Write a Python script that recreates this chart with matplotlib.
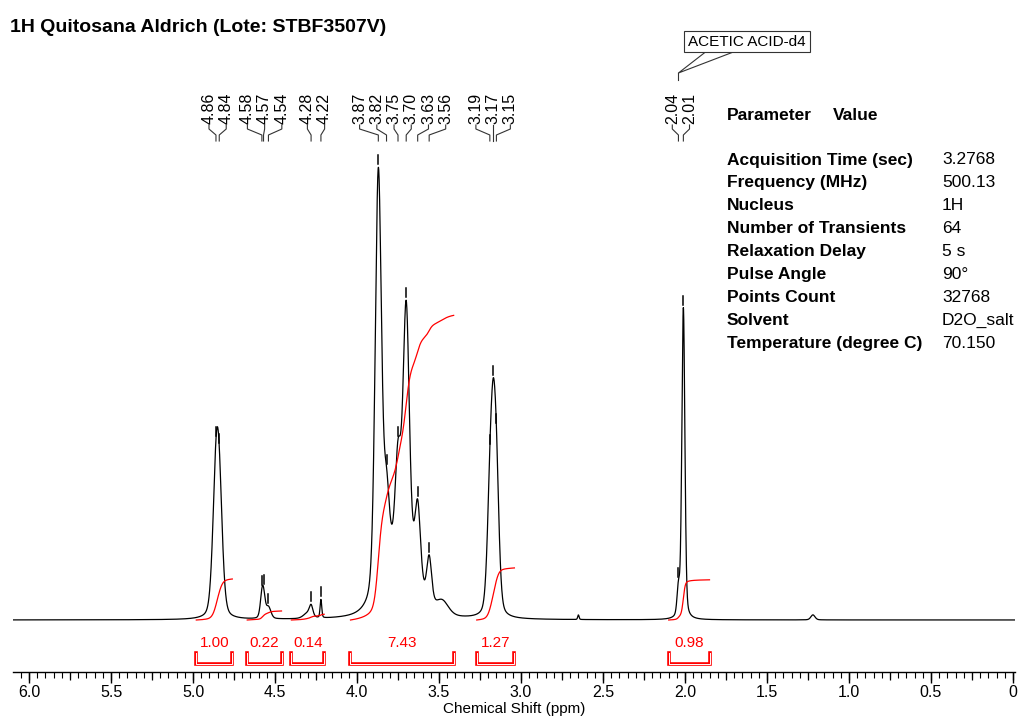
import numpy as np
import matplotlib
matplotlib.use('Agg')
import matplotlib.pyplot as plt
from matplotlib.ticker import MultipleLocator, FuncFormatter

plt.rcParams['font.family'] = ['Liberation Sans', 'DejaVu Sans']

title = '1H Quitosana Aldrich (Lote: STBF3507V)'

# lines: centre (ppm), height (tallest = 100), width (ppm)
line_ppm = [4.86, 4.84, 4.58, 4.57, 4.54, 4.30, 4.28, 4.22,
            3.74, 3.87, 3.82, 3.75, 3.70, 3.63, 3.56, 3.48,
            3.19, 3.17, 3.15, 2.65, 2.04, 2.01, 1.22]
line_height = [26, 22, 4, 4, 2.5, 1.2, 2.2, 4,
               14, 92, 16, 20, 55, 17, 10, 3,
               20, 30, 25, 1.0, 6, 68, 1.1]
line_width = [0.048, 0.048, 0.025, 0.025, 0.035, 0.06, 0.025, 0.012,
              0.22, 0.045, 0.04, 0.04, 0.045, 0.04, 0.035, 0.09,
              0.04, 0.04, 0.04, 0.01, 0.02, 0.022, 0.03]

# picked peaks
picked = [4.86, 4.84, 4.58, 4.57, 4.54, 4.28, 4.22,
          3.87, 3.82, 3.75, 3.70, 3.63, 3.56, 3.19, 3.17, 3.15,
          2.04, 2.01]

# integrals
int_from = [4.98, 4.67, 4.40, 4.04, 3.27, 2.10]
int_to = [4.76, 4.46, 4.20, 3.41, 3.04, 1.85]
int_value = [1.00, 0.22, 0.14, 7.43, 1.27, 0.98]

param_names = ['Acquisition Time (sec)', 'Frequency (MHz)', 'Nucleus',
               'Number of Transients', 'Relaxation Delay', 'Pulse Angle',
               'Points Count', 'Solvent', 'Temperature (degree C)']
param_values = ['3.2768', '500.13', '1H', '64', '5 s', '90\u00b0',
                '32768', 'D2O_salt', '70.150']


def lineshape(x, c, h, w, eta=0.3):
    d = (x - c) / w
    return h * ((1 - eta) * np.exp(-4 * np.log(2) * d ** 2) + eta / (1 + 4 * d ** 2))


ppm = np.linspace(6.1, -0.02, 8000)
spec = np.zeros_like(ppm)
for c, h, w in zip(line_ppm, line_height, line_width):
    spec += lineshape(ppm, c, h, w)


def spec_at(p):
    return sum(lineshape(p, c, h, w) for c, h, w in zip(line_ppm, line_height, line_width))


# pixel layout helpers (baseline at y=620 px, 4.58 px per unit)
W, H = 1019, 720
Y0, PX = 620, 4.58


def yd(p):
    return (Y0 - p) / PX


fig = plt.figure(figsize=(W / 100, H / 100), dpi=100)
ax = fig.add_axes([13 / W, 48 / H, 1002 / W, 672 / H])
ax.set_xlim(6.0976, -0.0122)
ax.set_ylim(yd(672), yd(0))

ax.plot(ppm, spec, color='black', lw=0.9, zorder=3)

# integral curves and brackets
unit = 41 / PX
for a, b, v in zip(int_from, int_to, int_value):
    m = (ppm <= a) & (ppm >= b)
    cum = np.cumsum(spec[m])
    cum = cum - cum[0]
    ax.plot(ppm[m], cum / cum[-1] * v * unit, color='red', lw=0.9, zorder=4)
    bx = [a, a, b, b]
    by = [yd(653), yd(664), yd(664), yd(653)]
    ax.plot(bx, by, color='red', lw=2.6, solid_joinstyle='miter', zorder=4)
    ax.plot(bx, by, color='white', lw=0.7, solid_joinstyle='miter', zorder=5)
    ax.text((a + b) / 2, yd(643), f'{v:.2f}', color='red', fontsize=11,
            ha='center', va='center')

# peak labels: spread groups with a minimum spacing
sep = 0.105
groups = [[p] for p in picked]
changed = True
while changed:
    changed = False
    pos = []
    for g in groups:
        c = np.mean(g)
        n = len(g)
        pos.append([c + sep * ((n - 1) / 2 - i) for i in range(n)])
    for i in range(len(groups) - 1):
        if pos[i][-1] - pos[i + 1][0] < sep:
            groups[i] = groups[i] + groups[i + 1]
            del groups[i + 1]
            changed = True
            break
label_x = [x for g in pos for x in g]

for p, lx in zip(picked, label_x):
    ax.text(lx, yd(124), f'{p:.2f}', rotation=90, fontsize=11.5,
            ha='center', va='bottom')
    ax.plot([lx, lx, p, p], [yd(125), yd(129), yd(135), yd(141)],
            color='#333333', lw=0.8)
    top = spec_at(p)
    ax.plot([p, p], [top + 3 / PX, top + 12 / PX], color='black', lw=1.1)

# solvent annotation
tip = 2.04
ax.plot([tip, tip], [yd(73), yd(80)], color='#333333', lw=0.8)
ax.plot([1.875, tip, 1.705], [yd(52), yd(73), yd(52)], color='#333333', lw=0.8)
ax.annotate('ACETIC ACID-d4', xy=(tip, yd(73)), xytext=(68.5, 31.5),
            textcoords='offset pixels', fontsize=11, ha='center', va='center',
            bbox=dict(boxstyle='square,pad=0.25', fc='white', ec='#333333', lw=0.8))

# axis styling
for s in ['left', 'right', 'top']:
    ax.spines[s].set_visible(False)
ax.spines['bottom'].set_linewidth(1.0)
ax.set_yticks([])
ax.xaxis.set_major_locator(MultipleLocator(0.5))
ax.xaxis.set_minor_locator(MultipleLocator(0.05))
ax.xaxis.set_major_formatter(FuncFormatter(lambda v, _: '0' if abs(v) < 1e-9 else f'{v:.1f}'))
ax.tick_params(axis='x', which='major', length=8, width=1.0, labelsize=11.5, pad=1.5)
ax.tick_params(axis='x', which='minor', length=4, width=0.8)
sec = ax.secondary_xaxis('bottom')
sec.set_xticks(np.arange(0, 6.01, 0.25))
sec.tick_params(length=6, width=0.9, labelbottom=False)
sec.spines['bottom'].set_visible(False)
ax.set_xlabel('Chemical Shift (ppm)', fontsize=11, labelpad=1)

# title and parameter table
fig.text(10 / W, 1 - 28 / H, title, fontsize=14, weight='bold', va='center')
fig.text(727 / W, 1 - 115 / H, 'Parameter', fontsize=12.5, weight='bold', va='center')
fig.text(833 / W, 1 - 115 / H, 'Value', fontsize=12.5, weight='bold', va='center')
for i, (n, v) in enumerate(zip(param_names, param_values)):
    y = 160 + 22.9 * i
    fig.text(727 / W, 1 - y / H, n, fontsize=12.5, weight='bold', va='center')
    fig.text(942 / W, 1 - y / H, v, fontsize=12.5, va='center')

fig.savefig('out.png', dpi=100)
